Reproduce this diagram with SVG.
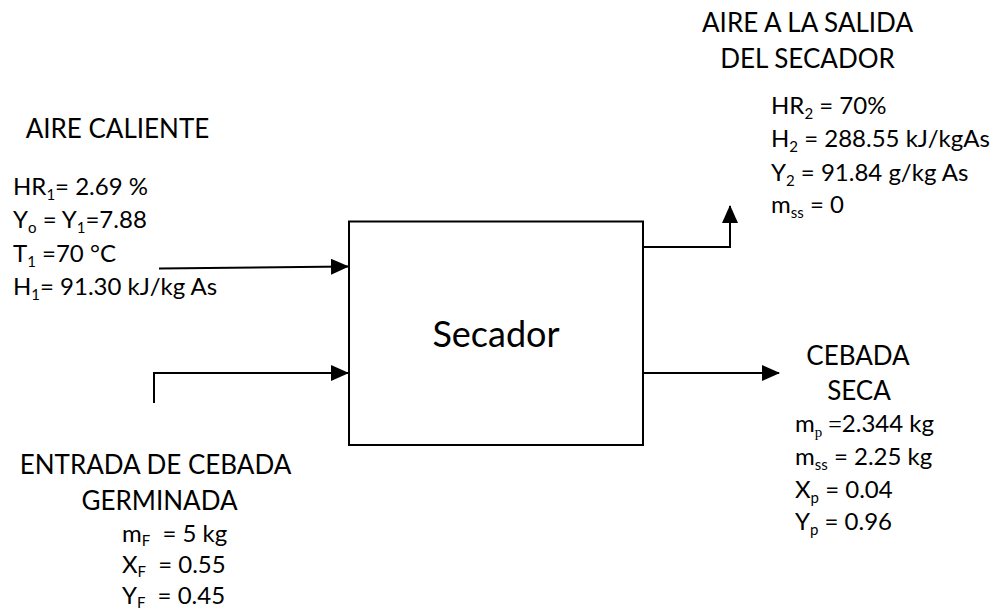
<svg xmlns="http://www.w3.org/2000/svg" width="993" height="612" viewBox="0 0 993 612">
<style>
text{font-family:Lato,"Open Sans","Liberation Sans",sans-serif;fill:#000}
.h{font-size:26px;text-anchor:middle}
.t{font-size:24px}
.s{font-size:15px}
.ser{font-family:"Liberation Serif",serif}
.title{font-size:36px;text-anchor:middle}
.ln{fill:none;stroke:#000;stroke-width:2}
</style>
<defs>
<marker id="ah" markerUnits="userSpaceOnUse" markerWidth="18" markerHeight="16" viewBox="0 0 18 16" refX="17" refY="8" orient="auto">
<path d="M0,0 L18,8 L0,16 Z" fill="#000"/>
</marker>
</defs>
<rect width="993" height="612" fill="#fff"/>

<g id="secador">
<rect x="349" y="221.5" width="294" height="223.5" fill="#fff" stroke="#000" stroke-width="2"/>
<text class="title" x="496" y="347">Secador</text>
</g>

<g id="connectors">
<line class="ln" x1="159" y1="268.5" x2="348" y2="266.5" marker-end="url(#ah)"/>
<path class="ln" d="M154,403 V373 H348" marker-end="url(#ah)"/>
<path class="ln" d="M643,247 H730 V206" marker-end="url(#ah)"/>
<line class="ln" x1="643" y1="373" x2="779" y2="373" marker-end="url(#ah)"/>
</g>

<g id="aire-caliente">
<text class="h" x="117.5" y="138">AIRE CALIENTE</text>
<text class="t" x="13" y="195">HR<tspan class="s" dy="5">1</tspan><tspan dy="-5">= 2.69 %</tspan></text>
<text class="t" x="13" y="228">Y<tspan class="s" dy="5">o</tspan><tspan dy="-5"> = Y</tspan><tspan class="s" dy="5">1</tspan><tspan dy="-5">=7.88</tspan></text>
<text class="t" x="13" y="262">T<tspan class="s" dy="5">1</tspan><tspan dy="-5"> =70 °C</tspan></text>
<text class="t" x="13" y="295">H<tspan class="s" dy="5">1</tspan><tspan dy="-5">= 91.30 kJ/kg As</tspan></text>
</g>

<g id="aire-salida">
<text class="h" x="807.5" y="32">AIRE A LA SALIDA</text>
<text class="h" x="807.5" y="68">DEL SECADOR</text>
<text class="t" x="771" y="114">HR<tspan class="s" dy="5">2</tspan><tspan dy="-5"> = 70%</tspan></text>
<text class="t" x="771" y="147">H<tspan class="s" dy="5">2</tspan><tspan dy="-5"> = 288.55 kJ/kgAs</tspan></text>
<text class="t" x="771" y="180.5">Y<tspan class="s" dy="5">2</tspan><tspan dy="-5"> = 91.84 g/kg As</tspan></text>
<text class="t" x="771" y="213">m<tspan class="s" dy="5">ss</tspan><tspan dy="-5"> = 0</tspan></text>
</g>

<g id="entrada-cebada">
<text class="h" x="155.5" y="474">ENTRADA DE CEBADA</text>
<text class="h" x="159.5" y="510">GERMINADA</text>
<text class="t" x="122" y="542">m<tspan class="s" dy="4">F</tspan><tspan dy="-4" dx="6"> = 5 kg</tspan></text>
<text class="t" x="122" y="573">X<tspan class="s" dy="4">F</tspan><tspan dy="-4" dx="6"> = 0.55</tspan></text>
<text class="t" x="122" y="604">Y<tspan class="s" dy="4">F</tspan><tspan dy="-4" dx="6"> = 0.45</tspan></text>
</g>

<g id="cebada-seca">
<text class="h" x="858" y="365">CEBADA</text>
<text class="h" x="859" y="400">SECA</text>
<text class="t" x="795" y="432">m<tspan class="s ser" dy="5">p</tspan><tspan class="ser" dy="-5"> =</tspan>2.344 kg</text>
<text class="t" x="795" y="465">m<tspan class="s" dy="5">ss</tspan><tspan dy="-5"> = 2.25 kg</tspan></text>
<text class="t" x="795" y="498">X<tspan class="s" dy="5">p</tspan><tspan dy="-5"> = 0.04</tspan></text>
<text class="t" x="795" y="530">Y<tspan class="s" dy="5">p</tspan><tspan dy="-5"> = 0.96</tspan></text>
</g>
</svg>
